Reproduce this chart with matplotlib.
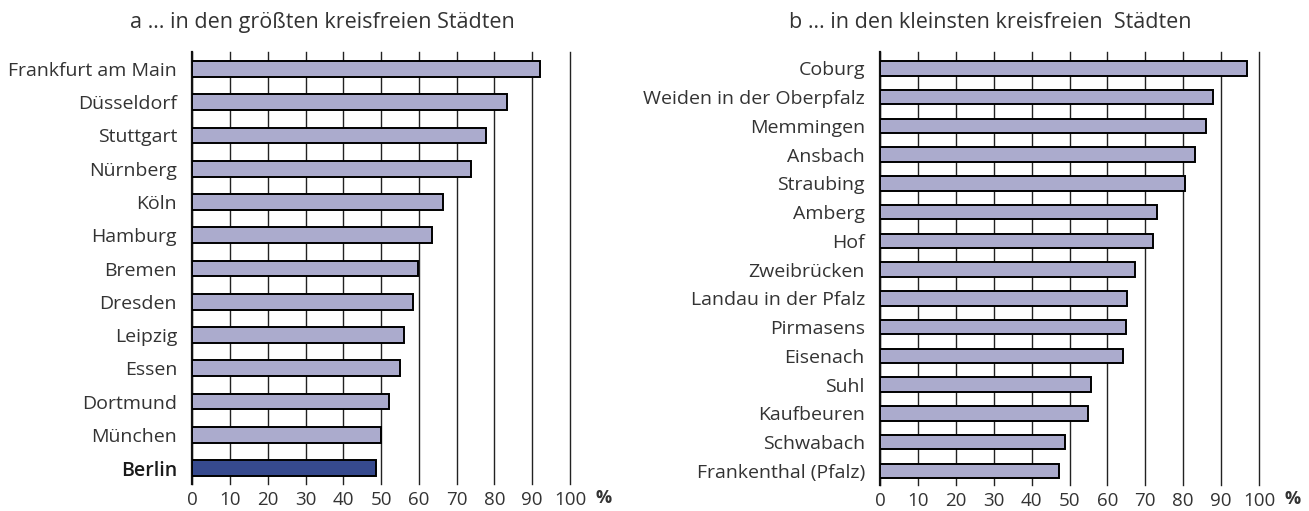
import matplotlib
matplotlib.use("Agg")
import matplotlib.pyplot as plt

plt.rcParams['font.family'] = ['Open Sans', 'DejaVu Sans']

# a ... in den größten kreisfreien Städten
cities_a = ["Frankfurt am Main", "Düsseldorf", "Stuttgart", "Nürnberg", "Köln",
            "Hamburg", "Bremen", "Dresden", "Leipzig", "Essen", "Dortmund",
            "München", "Berlin"]
values_a = [92.0, 83.4, 77.9, 73.8, 66.5, 63.6, 59.7, 58.4, 56.0, 55.1, 52.0,
            50.0, 48.7]

# b ... in den kleinsten kreisfreien Städten
cities_b = ["Coburg", "Weiden in der Oberpfalz", "Memmingen", "Ansbach",
            "Straubing", "Amberg", "Hof", "Zweibrücken", "Landau in der Pfalz",
            "Pirmasens", "Eisenach", "Suhl", "Kaufbeuren", "Schwabach",
            "Frankenthal (Pfalz)"]
values_b = [96.8, 87.9, 85.9, 83.0, 80.5, 73.2, 72.1, 67.2, 65.2, 64.8, 64.0,
            55.6, 55.0, 48.7, 47.3]

xticks = [0, 10, 20, 30, 40, 50, 60, 70, 80, 90, 100]
highlight = "Berlin"

light = "#ababcd"
dark = "#364a8e"
txt = "#333333"

fig = plt.figure(figsize=(13.09, 5.11), dpi=100)
ax_a = fig.add_axes([0.1469, 0.0528, 0.2885, 0.8454])
ax_b = fig.add_axes([0.6723, 0.0509, 0.2895, 0.8474])


def draw(ax, cities, values, height, ylim):
    colors = [dark if c == highlight else light for c in cities]
    ax.barh(range(len(cities)), values, height=height, color=colors,
            edgecolor="black", linewidth=1.4, zorder=3)
    ax.set_xlim(0, 100)
    ax.set_ylim(*ylim)
    ax.set_xticks(xticks)
    ax.set_xticklabels([str(t) for t in xticks], fontsize=13.5, color=txt)
    ax.set_yticks(range(len(cities)))
    ax.set_yticklabels(cities, fontsize=14, color=txt)
    for lab in ax.get_yticklabels():
        if lab.get_text() == highlight:
            lab.set_fontweight("semibold")
            lab.set_color("#1a1a1a")
    ax.tick_params(axis="both", length=0)
    ax.tick_params(axis="y", pad=11)
    ax.tick_params(axis="x", pad=5)
    for s in ["top", "right", "bottom"]:
        ax.spines[s].set_visible(False)
    ax.spines["left"].set_linewidth(1.6)
    ax.spines["left"].set_color("#111111")
    ax.grid(axis="x", color="#222222", linewidth=1.0, zorder=1)
    for gl in ax.get_xgridlines():
        gl.set_clip_on(False)
    ax.set_axisbelow(True)
    ax.text(108.8, -0.012, "%", transform=ax.get_xaxis_transform(),
            ha="center", va="top", fontsize=13, fontweight="bold", color=txt)


draw(ax_a, cities_a, values_a, 0.47, (12.48, -0.51))
draw(ax_b, cities_b, values_b, 0.5, (14.49, -0.57))

fig.text(0.246, 0.955, "a … in den größten kreisfreien Städten",
         ha="center", va="center", fontsize=15.5, color=txt)
fig.text(0.7563, 0.955, "b … in den kleinsten kreisfreien  Städten",
         ha="center", va="center", fontsize=15.5, color=txt)

fig.savefig("out.png", dpi=100)
